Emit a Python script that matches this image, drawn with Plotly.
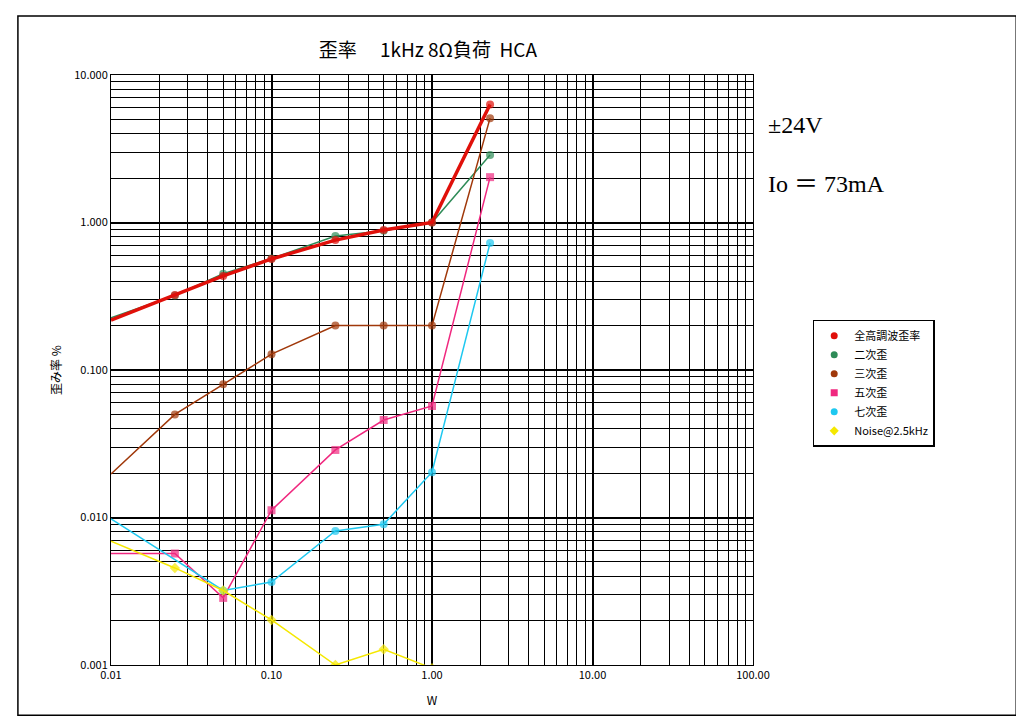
import plotly.graph_objects as go

# power (W)
x_all = [0.01, 0.025, 0.05, 0.1, 0.25, 0.5, 1.0, 2.3]
x_7th = [0.01, 0.05, 0.1, 0.25, 0.5, 1.0, 2.3]

thd = [0.218, 0.322, 0.434, 0.566, 0.76, 0.89, 1.0, 6.3]
h2 = [0.226, 0.32, 0.45, 0.57, 0.81, 0.88, 1.0, 2.87]
h3 = [0.0197, 0.050, 0.080, 0.128, 0.20, 0.20, 0.20, 5.1]
h5 = [0.0057, 0.0057, 0.00285, 0.0112, 0.0287, 0.0458, 0.057, 2.03]
h7 = [0.0098, 0.0032, 0.00365, 0.0081, 0.009, 0.0203, 0.726]
noise_x = [0.01, 0.025, 0.05, 0.1, 0.25, 0.5, 1.0]
noise = [0.0069, 0.00455, 0.0032, 0.00202, 0.001, 0.00128, 0.00095]

xticks = [0.01, 0.1, 1, 10, 100]
xticklabels = ["0.01", "0.10", "1.00", "10.00", "100.00"]
yticks = [0.001, 0.01, 0.1, 1, 10]
yticklabels = ["0.001", "0.010", "0.100", "1.000", "10.000"]
xminor = [m * 10.0 ** e for e in range(-2, 2) for m in range(2, 10)]
yminor = [m * 10.0 ** e for e in range(-3, 1) for m in range(2, 10)]

fig = go.Figure()


def series(x, y, name, color, symbol, width=1.5, msize=8, rank=1):
    sizes = [0] + [msize] * (len(x) - 1)
    fig.add_trace(go.Scatter(x=x, y=y, name=name, mode="lines+markers",
                             line=dict(color=color, width=width),
                             marker=dict(color=color, symbol=symbol, size=sizes,
                                         line=dict(width=0)),
                             showlegend=False))
    # legend entry: marker only
    fig.add_trace(go.Scatter(x=[None], y=[None], name=name, mode="markers",
                             marker=dict(color=color, symbol=symbol, size=7,
                                         line=dict(width=0)),
                             legendrank=rank))


series(x_all, h2, "二次歪", "#2e8b57", "circle", rank=2)
series(x_all, h3, "三次歪", "#a0380a", "circle", rank=3)
series(x_all, h5, "五次歪", "#f0287f", "square", rank=4)
series(x_7th, h7, "七次歪", "#1ec8f0", "circle", rank=5)
series(noise_x, noise, "Noise@2.5kHz", "#f5e800", "diamond", rank=6)
series(x_all, thd, "全高調波歪率", "#e0100a", "circle", width=3.5, rank=1)

axis_common = dict(type="log", showline=True, linecolor="black", linewidth=1,
                   gridcolor="black", gridwidth=2, ticks="", mirror=True,
                   automargin=False, tickfont=dict(size=11, color="black"))
fig.update_xaxes(range=[-2, 2], tickvals=xticks, ticktext=xticklabels,
                 minor=dict(tickvals=xminor, showgrid=True, gridcolor="black",
                            gridwidth=1.2, ticks=""),
                 title=dict(text="W", font=dict(size=12)), **axis_common)
fig.update_yaxes(range=[-3, 1], tickvals=yticks, ticktext=yticklabels,
                 minor=dict(tickvals=yminor, showgrid=True, gridcolor="black",
                            gridwidth=1.2, ticks=""),
                 title=dict(text="歪み率 %", font=dict(size=12), standoff=10),
                 **axis_common)

fig.update_layout(
    width=1024, height=723,
    margin=dict(l=103, r=279, t=67, b=66),
    paper_bgcolor="white", plot_bgcolor="white",
    font=dict(family="Noto Sans CJK JP, sans-serif", color="black"),
    title=dict(text="歪率　 1kHz 8Ω負荷  HCA", x=0.41, y=0.95,
               font=dict(size=19)),
    legend=dict(x=1.093, y=0.585, xanchor="left", yanchor="top",
                bordercolor="black", borderwidth=1.5, font=dict(size=11),
                tracegroupgap=0),
    shapes=[dict(type="rect", xref="paper", yref="paper",
                 x0=-0.145, x1=1.41, y0=-0.085, y1=1.1,
                 line=dict(color="black", width=1.5))],
    annotations=[
        dict(text="±24V", xref="paper", yref="paper", x=1.02, y=0.94,
             xanchor="left", showarrow=False,
             font=dict(family="Liberation Serif", size=24)),
        dict(text="Io ＝ 73mA", xref="paper", yref="paper", x=1.02, y=0.84,
             xanchor="left", showarrow=False,
             font=dict(family="Liberation Serif, Noto Sans CJK JP", size=24)),
    ],
)

fig.write_html("out.html")
